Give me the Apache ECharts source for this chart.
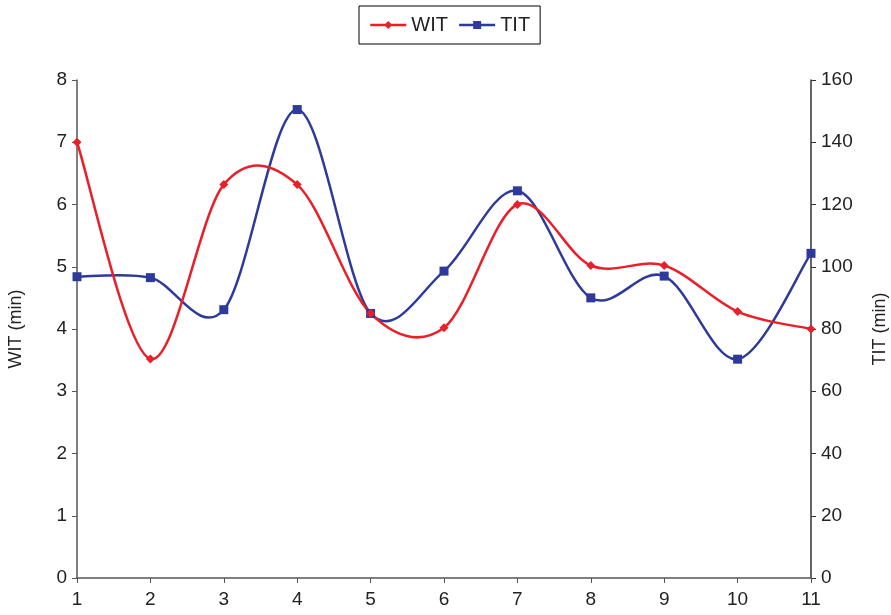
<!DOCTYPE html>
<html>
<head>
<meta charset="utf-8">
<script src="https://cdn.jsdelivr.net/npm/echarts@6/dist/echarts.min.js"></script>
<style>
  html, body { margin: 0; padding: 0; background: #fff; }
  #app { width: 891px; height: 615px; }
</style>
</head>
<body>
<div id="app"></div>
<script>
const periods = ['1', '2', '3', '4', '5', '6', '7', '8', '9', '10', '11']
const witValues = [7.0, 3.52, 6.32, 6.32, 4.25, 4.02, 6.0, 5.02, 5.02, 4.28, 4.0]
const titValues = [96.8, 96.5, 86.2, 150.5, 85.0, 98.6, 124.4, 90.0, 97.0, 70.3, 104.3]

const RED = '#e8202a'
const BLUE = '#2e3a9a'

const chart = echarts.init(document.getElementById('app'))

const labelStyle = { color: '#222', fontSize: 19, fontFamily: 'Liberation Sans, Arial, sans-serif' }

// excel-like smoothed segment (catmull-rom style), from point i to i+1
function smoothSegment(values, color) {
  return function (params, api) {
    const i = params.dataIndex
    if (i >= values.length - 1) return null
    const p = values.map((v, k) => api.coord([k, v]))
    const p0 = p[Math.max(i - 1, 0)]
    const p1 = p[i]
    const p2 = p[i + 1]
    const p3 = p[Math.min(i + 2, values.length - 1)]
    return {
      type: 'bezierCurve',
      shape: {
        x1: p1[0], y1: p1[1],
        x2: p2[0], y2: p2[1],
        cpx1: p1[0] + (p2[0] - p0[0]) / 6,
        cpy1: p1[1] + (p2[1] - p0[1]) / 6,
        cpx2: p2[0] - (p3[0] - p1[0]) / 6,
        cpy2: p2[1] - (p3[1] - p1[1]) / 6
      },
      style: { stroke: color, lineWidth: 2.5, fill: null }
    }
  }
}

chart.setOption({
  animation: false,
  textStyle: { fontFamily: 'Liberation Sans, Arial, sans-serif' },
  legend: {
    top: 6,
    left: 359,
    padding: [9, 10, 9, 10],
    borderColor: '#000',
    borderWidth: 1,
    itemGap: 10,
    itemWidth: 36,
    itemHeight: 10,
    textStyle: { color: '#222', fontSize: 20 },
    data: [
      { name: 'WIT', lineStyle: { opacity: 1, width: 2.5, color: RED } },
      { name: 'TIT', lineStyle: { opacity: 1, width: 2.5, color: BLUE } }
    ]
  },
  grid: { left: 77, right: 80, top: 80, bottom: 37, containLabel: false, outerBoundsMode: 'none' },
  xAxis: {
    type: 'category',
    boundaryGap: false,
    data: periods,
    axisLine: { lineStyle: { color: '#555', width: 1.5 } },
    axisTick: { show: true, length: 5, lineStyle: { color: '#555' } },
    axisLabel: Object.assign({ margin: 12 }, labelStyle),
    splitLine: { show: false }
  },
  yAxis: [
    {
      type: 'value',
      min: 0, max: 8, interval: 1,
      name: 'WIT (min)',
      nameLocation: 'middle',
      nameRotate: 90,
      nameGap: 52,
      nameTextStyle: { color: '#222', fontSize: 18 },
      axisLine: { show: true, lineStyle: { color: '#555', width: 1.5 } },
      axisTick: { show: true, length: 5, lineStyle: { color: '#555' } },
      axisLabel: Object.assign({ margin: 10 }, labelStyle),
      splitLine: { show: false }
    },
    {
      type: 'value',
      min: 0, max: 160, interval: 20,
      name: 'TIT (min)',
      nameLocation: 'middle',
      nameRotate: 90,
      nameGap: 60,
      nameTextStyle: { color: '#222', fontSize: 18 },
      position: 'right',
      axisLine: { show: true, lineStyle: { color: '#333', width: 1.5 } },
      axisTick: { show: true, length: 5, lineStyle: { color: '#333' } },
      axisLabel: Object.assign({ margin: 10 }, labelStyle),
      splitLine: { show: false }
    }
  ],
  series: [
    {
      name: 'WIT',
      type: 'line',
      yAxisIndex: 0,
      data: witValues,
      symbol: 'diamond',
      symbolSize: 9,
      color: RED,
      lineStyle: { width: 2.5, color: RED, opacity: 0 },
      itemStyle: { color: RED },
      z: 4
    },
    {
      name: 'TIT',
      type: 'line',
      yAxisIndex: 1,
      data: titValues,
      symbol: 'rect',
      symbolSize: 9,
      color: BLUE,
      lineStyle: { width: 2.5, color: BLUE, opacity: 0 },
      itemStyle: { color: BLUE },
      z: 3
    },
    {
      name: 'wit-curve',
      type: 'custom',
      yAxisIndex: 0,
      data: witValues.map((v, k) => [k, v]),
      renderItem: smoothSegment(witValues, RED),
      silent: true,
      z: 3
    },
    {
      name: 'tit-curve',
      type: 'custom',
      yAxisIndex: 1,
      data: titValues.map((v, k) => [k, v]),
      renderItem: smoothSegment(titValues, BLUE),
      silent: true,
      z: 2
    }
  ]
})
</script>
</body>
</html>
